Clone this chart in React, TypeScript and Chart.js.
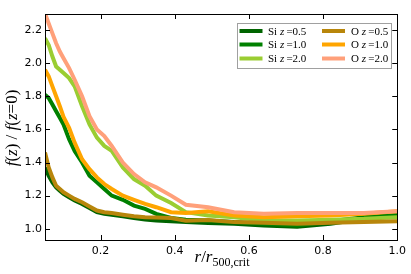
import { useEffect, useRef } from 'react';
import { Chart, registerables } from 'chart.js';

Chart.register(...registerables);

const rValues = [0.05, 0.06, 0.07, 0.08, 0.09, 0.10, 0.115, 0.13, 0.15, 0.17, 0.19, 0.21, 0.23, 0.26, 0.29, 0.32, 0.35, 0.39, 0.43, 0.49, 0.56, 0.64, 0.73, 0.82, 0.91, 1.0];

const siZ05 = [1.37, 1.32, 1.28, 1.25, 1.23, 1.21, 1.19, 1.17, 1.15, 1.125, 1.10, 1.09, 1.085, 1.075, 1.065, 1.055, 1.05, 1.045, 1.04, 1.035, 1.03, 1.02, 1.012, 1.03, 1.06, 1.08];
const siZ10 = [1.81, 1.79, 1.75, 1.71, 1.67, 1.63, 1.54, 1.47, 1.40, 1.32, 1.28, 1.24, 1.20, 1.175, 1.14, 1.12, 1.09, 1.065, 1.055, 1.05, 1.04, 1.03, 1.02, 1.045, 1.07, 1.085];
const siZ20 = [2.15, 2.11, 2.04, 1.98, 1.96, 1.94, 1.91, 1.86, 1.74, 1.63, 1.55, 1.50, 1.47, 1.37, 1.30, 1.26, 1.20, 1.155, 1.10, 1.08, 1.07, 1.05, 1.05, 1.055, 1.06, 1.07];
const oZ05 = [1.46, 1.37, 1.31, 1.26, 1.24, 1.22, 1.20, 1.18, 1.16, 1.135, 1.11, 1.10, 1.095, 1.085, 1.075, 1.07, 1.068, 1.065, 1.048, 1.053, 1.04, 1.036, 1.03, 1.036, 1.04, 1.045];
const oZ10 = [1.96, 1.92, 1.86, 1.80, 1.74, 1.675, 1.61, 1.52, 1.42, 1.36, 1.31, 1.27, 1.24, 1.20, 1.175, 1.15, 1.13, 1.10, 1.095, 1.105, 1.08, 1.07, 1.075, 1.08, 1.09, 1.105];
const oZ20 = [2.30, 2.24, 2.18, 2.12, 2.07, 2.03, 1.97, 1.90, 1.80, 1.68, 1.60, 1.56, 1.50, 1.40, 1.33, 1.28, 1.25, 1.20, 1.145, 1.13, 1.10, 1.09, 1.095, 1.095, 1.095, 1.105];

const seriesLabels = ['Si z=0.5', 'Si z=1.0', 'Si z=2.0', 'O z=0.5', 'O z=1.0', 'O z=2.0'];
const seriesElements = ['Si', 'Si', 'Si', 'O', 'O', 'O'];
const seriesRedshifts = ['0.5', '1.0', '2.0', '0.5', '1.0', '2.0'];
const seriesValues = [siZ05, siZ10, siZ20, oZ05, oZ10, oZ20];
const seriesColors = ['#006400', '#008000', '#9ACD32', '#B8860B', '#FFA500', '#FFA07A'];

const xTickValues = [0.2, 0.4, 0.6, 0.8, 1.0];
const yTickValues = [1.0, 1.2, 1.4, 1.6, 1.8, 2.0, 2.2];

type Seg = [string, boolean, number?, number?];

function drawRich(ctx: CanvasRenderingContext2D, segs: Seg[], x: number, y: number, size: number, align: 'left' | 'center') {
  const fontFor = (s: Seg) => `${s[1] ? 'italic ' : ''}${s[2] ?? size}px "Liberation Serif", serif`;
  let total = 0;
  for (const s of segs) {
    ctx.font = fontFor(s);
    total += ctx.measureText(s[0]).width;
  }
  let cx = align === 'center' ? x - total / 2 : x;
  ctx.textAlign = 'left';
  ctx.textBaseline = 'alphabetic';
  for (const s of segs) {
    ctx.font = fontFor(s);
    ctx.fillText(s[0], cx, y + (s[3] ?? 0));
    cx += ctx.measureText(s[0]).width;
  }
}

const framePlugin = {
  id: 'frame',
  afterDatasetsDraw(chart: any) {
    const ctx: CanvasRenderingContext2D = chart.ctx;
    const { left, right, top, bottom } = chart.chartArea;
    const xs = chart.scales.x;
    const ys = chart.scales.y;
    ctx.save();
    ctx.strokeStyle = '#000';
    ctx.lineWidth = 1;
    ctx.strokeRect(Math.round(left) + 0.5, Math.round(top) + 0.5, Math.round(right - left), Math.round(bottom - top));
    ctx.beginPath();
    for (const v of xTickValues) {
      const px = Math.round(xs.getPixelForValue(v)) + 0.5;
      ctx.moveTo(px, bottom);
      ctx.lineTo(px, bottom - 5);
      ctx.moveTo(px, top);
      ctx.lineTo(px, top + 5);
    }
    for (const v of yTickValues) {
      const py = Math.round(ys.getPixelForValue(v)) + 0.5;
      ctx.moveTo(left, py);
      ctx.lineTo(left + 5, py);
      ctx.moveTo(right, py);
      ctx.lineTo(right - 5, py);
    }
    ctx.stroke();

    // legend
    const lx = 237.5, ly = 23.5, lw = 154, lh = 45;
    ctx.fillStyle = '#fff';
    ctx.fillRect(lx, ly, lw, lh);
    ctx.strokeStyle = '#a0a0a0';
    ctx.strokeRect(lx, ly, lw, lh);
    const rowY = [31, 44.5, 58.5];
    const colSw = [239.5, 322];
    const colTx = [268, 351];
    for (let i = 0; i < seriesLabels.length; i++) {
      const c = Math.floor(i / 3);
      const r = i % 3;
      ctx.strokeStyle = seriesColors[i];
      ctx.lineWidth = 4;
      ctx.beginPath();
      ctx.moveTo(colSw[c], rowY[r]);
      ctx.lineTo(colSw[c] + 23, rowY[r]);
      ctx.stroke();
      ctx.fillStyle = '#000';
      drawRich(ctx, [[seriesElements[i] + ' ', false], ['z', true], ['\u2009=' + seriesRedshifts[i], false]], colTx[c], rowY[r] + 3.5, 11, 'left');
    }
    ctx.restore();
  },
  afterDraw(chart: any) {
    const ctx: CanvasRenderingContext2D = chart.ctx;
    ctx.save();
    ctx.fillStyle = '#000';
    // x title
    drawRich(ctx, [['r', true, 17], ['/', false, 17], ['r', true, 17], ['500,crit', false, 12, 4]], 222, 262, 17, 'center');
    // y title
    ctx.translate(12, 128);
    ctx.rotate(-Math.PI / 2);
    drawRich(ctx, [['f', true], ['(', false], ['z', true], [') / ', false], ['f', true], ['(', false], ['z', true], ['=0)', false]], 0, 5, 17, 'center');
    ctx.restore();
  },
};

export default function App() {
  const ref = useRef<HTMLCanvasElement>(null);
  useEffect(() => {
    if (!ref.current) return;
    const chart = new Chart(ref.current, {
      type: 'line',
      data: {
        datasets: seriesValues.map((vals, i) => ({
          label: seriesLabels[i],
          data: rValues.map((r, j) => ({ x: r, y: vals[j] })),
          borderColor: seriesColors[i],
          backgroundColor: seriesColors[i],
          borderWidth: 4,
          pointRadius: 0,
          tension: 0,
          fill: false,
          order: seriesValues.length - 1 - i,
        })),
      },
      options: {
        responsive: false,
        animation: false,
        events: [],
        layout: { padding: { left: 0, right: 10, top: 14, bottom: 0 } },
        plugins: { legend: { display: false }, tooltip: { enabled: false } },
        scales: {
          x: {
            type: 'linear',
            min: 0.05,
            max: 1.0,
            grid: { display: false, drawTicks: false, tickLength: 0 },
            border: { display: false },
            afterBuildTicks: (s: any) => { s.ticks = xTickValues.map((v) => ({ value: v })); },
            afterFit: (s: any) => { s.height = 34; },
            ticks: {
              padding: 5,
              color: '#000',
              font: { family: '"DejaVu Sans"', size: 11 },
              callback: (v: any) => Number(v).toFixed(1),
              maxRotation: 0,
            },
          },
          y: {
            type: 'linear',
            min: 0.932,
            max: 2.297,
            grid: { display: false, drawTicks: false, tickLength: 0 },
            border: { display: false },
            afterBuildTicks: (s: any) => { s.ticks = yTickValues.map((v) => ({ value: v })); },
            afterFit: (s: any) => { s.width = 45; },
            ticks: {
              padding: 3,
              color: '#000',
              font: { family: '"DejaVu Sans"', size: 11 },
              callback: (v: any) => Number(v).toFixed(1),
            },
          },
        },
      },
      plugins: [framePlugin],
    });
    return () => chart.destroy();
  }, []);
  return (
    <div style={{ position: 'fixed', left: 0, top: 0, width: 411, height: 274, background: '#fff' }}>
      <canvas ref={ref} width={411} height={274} style={{ width: 411, height: 274, display: 'block' }} />
    </div>
  );
}
